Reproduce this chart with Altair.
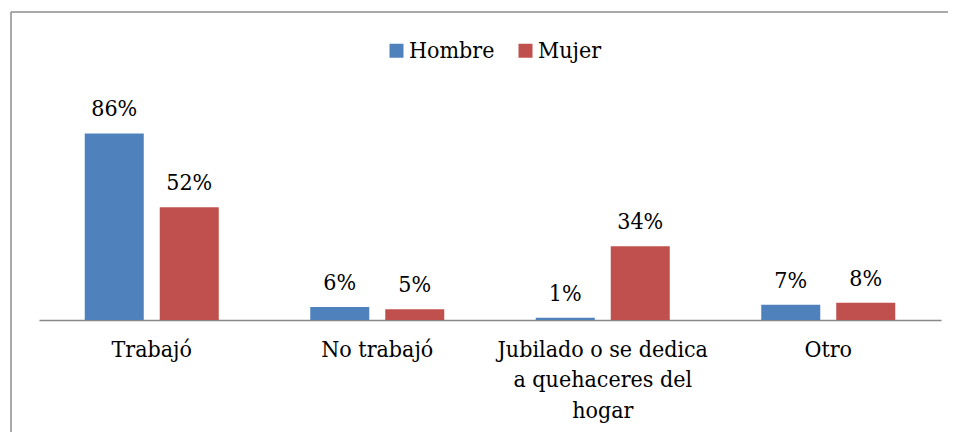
import altair as alt
import pandas as pd

categories = ["Trabajó", "No trabajó", "Jubilado o se dedica|a quehaceres del|hogar", "Otro"]
series = ["Hombre", "Mujer"]
hombre = [86, 6, 1, 7]
mujer = [52, 5, 34, 8]
colors = ["#4F81BD", "#C0504D"]

rows = []
for c, h, m in zip(categories, hombre, mujer):
    rows.append({"cat": c, "serie": "Hombre", "val": h})
    rows.append({"cat": c, "serie": "Mujer", "val": m})
df = pd.DataFrame(rows)

FONT = "'DejaVu Serif Condensed', 'DejaVu Serif', serif"
FS = 23

x = alt.X("cat:N", sort=categories, title=None,
          scale=alt.Scale(paddingInner=0, paddingOuter=0),
          axis=alt.Axis(ticks=False, labelAngle=0, labelFont=FONT, labelFontSize=FS,
                        labelColor="black", labelPadding=18, labelLimit=400,
                        labelExpr="split(datum.label, '|')", labelLineHeight=30.5,
                        labelBaseline="top",
                        domainColor="#888888", domainWidth=1.5, grid=False))
xo = alt.XOffset("serie:N", sort=series,
                 scale=alt.Scale(paddingInner=0.2133, paddingOuter=0.61))
y = alt.Y("val:Q", scale=alt.Scale(domain=[0, 100]), axis=None)

bars = alt.Chart(df).mark_bar().encode(
    x=x, xOffset=xo, y=y,
    color=alt.Color("serie:N", sort=series,
                    scale=alt.Scale(domain=series, range=colors),
                    legend=alt.Legend(orient="none", legendX=346, legendY=-64,
                                      direction="horizontal", title=None,
                                      symbolType="square", symbolSize=196,
                                      symbolStrokeWidth=0, labelFont=FONT,
                                      labelFontSize=FS, labelColor="black",
                                      labelOffset=1, columnPadding=19)),
)

texts = alt.Chart(df).transform_calculate(
    lab="datum.val + '%'"
).mark_text(font=FONT, fontSize=FS, baseline="alphabetic", dy=-17, color="black").encode(
    x=x, xOffset=xo, y=y, text="lab:N"
)

frame_data = pd.DataFrame({"a": [0]})
left_rule = alt.Chart(frame_data).mark_rule(color="#8c8c8c", strokeWidth=1.5).encode(
    x=alt.value(-28), y=alt.value(-91), y2=alt.value(330))
top_rule = alt.Chart(frame_data).mark_rule(color="#8c8c8c", strokeWidth=1.5).encode(
    x=alt.value(-28), x2=alt.value(909), y=alt.value(-91))

chart = alt.layer(left_rule, top_rule, bars, texts).properties(
    width=902, height=217,
    autosize=alt.AutoSizeParams(type="none"),
    padding={"left": 31, "top": 95, "right": 7, "bottom": 112},
).configure_view(stroke=None)

chart.save("out.html", embed_options={"renderer": "svg", "actions": False})
